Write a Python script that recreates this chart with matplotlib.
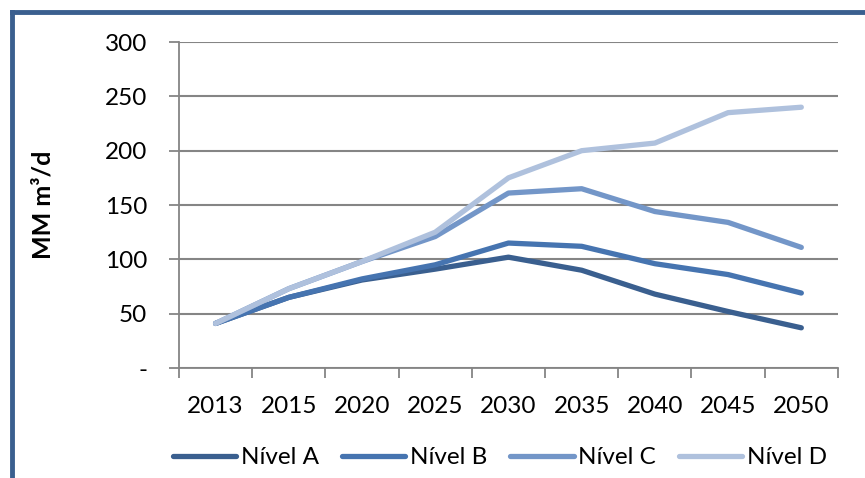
import numpy as np
import matplotlib.pyplot as plt
from matplotlib.lines import Line2D

years = ['2013', '2015', '2020', '2025', '2030', '2035', '2040', '2045', '2050']
nivel_a = [41, 65, 81, 91, 102, 90, 68, 52, 37]
nivel_b = [41, 65, 82, 95, 115, 112, 96, 86, 69]
nivel_c = [41, 73, 98, 121, 161, 165, 144, 134, 111]
nivel_d = [41, 73, 98, 125, 175, 200, 207, 235, 240]
series = [('Nível A', nivel_a, '#3a5f8f'),
          ('Nível B', nivel_b, '#4674b0'),
          ('Nível C', nivel_c, '#7396c8'),
          ('Nível D', nivel_d, '#afc1dd')]

plt.rcParams['font.family'] = ['Lato', 'DejaVu Sans']

fig = plt.figure(figsize=(8.65, 4.78), dpi=100)
ax = fig.add_axes([0.2069, 0.2301, 0.7618, 0.682])

x = np.arange(len(years))
for name, vals, col in series:
    ax.plot(x, vals, color=col, lw=3.8, solid_capstyle='round',
            solid_joinstyle='round', label=name)

ax.set_xlim(-0.5, len(years) - 0.5)
ax.set_ylim(0, 300)
ax.set_yticks(range(0, 301, 50))
ax.set_yticklabels(['-'] + [str(v) for v in range(50, 301, 50)])
ax.yaxis.grid(True, color='#858585', lw=1.5)
ax.set_axisbelow(True)

ax.set_xticks(np.arange(-0.5, len(years)), labels=[''] * (len(years) + 1))
ax.set_xticks(x, minor=True)
ax.set_xticklabels(years, minor=True)
ax.tick_params(axis='x', which='major', length=7, width=1.3, color='#858585')
ax.tick_params(axis='x', which='minor', length=0, pad=20, labelsize=17.5)
ax.tick_params(axis='y', length=7, width=1.3, color='#858585', pad=16, labelsize=17.5)

for s in ['top', 'right']:
    ax.spines[s].set_visible(False)
for s in ['left', 'bottom']:
    ax.spines[s].set_color('#858585')
    ax.spines[s].set_linewidth(1.3)

ax.set_ylabel('MM m³/d', fontsize=18, fontweight='bold', labelpad=36)

fig.legend(loc='center', bbox_to_anchor=(0.578, 0.042), ncol=4, frameon=False,
           fontsize=17.5, handlelength=2.6, handletextpad=0.2, columnspacing=0.95)

# outer frame (left and top visible)
fig.add_artist(Line2D([12 / 865, 12 / 865], [0, 1 - 12 / 478],
                      transform=fig.transFigure, color='#3a5f8f', lw=3.5))
fig.add_artist(Line2D([12 / 865, 1], [1 - 12 / 478, 1 - 12 / 478],
                      transform=fig.transFigure, color='#3a5f8f', lw=3.5))

fig.savefig('out.png', dpi=100)
